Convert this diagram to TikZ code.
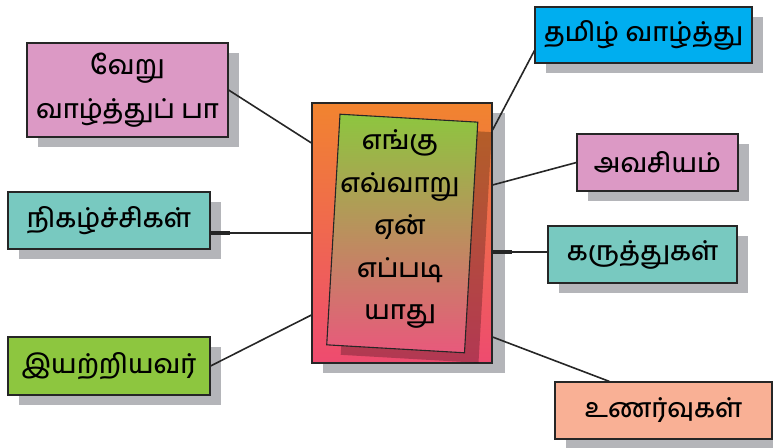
\documentclass[tikz,border=0pt]{standalone}
\usepackage{fontspec}
\newfontfamily\tamil[Script=Tamil, UprightFont=* Medium]{Hind Madurai}
\usetikzlibrary{shadows}
\definecolor{rosebox}{HTML}{DC99C5}
\definecolor{tealbox}{HTML}{78C9C0}
\definecolor{leafbox}{HTML}{8DC63F}
\definecolor{skybox}{HTML}{00AEEF}
\definecolor{peachbox}{HTML}{F9B095}
\definecolor{shadegray}{HTML}{B4B5B9}
\definecolor{midtop}{HTML}{F1842F}
\definecolor{midbot}{HTML}{EE4B70}
\definecolor{tiltbot}{HTML}{E8597C}
\begin{document}
\begin{tikzpicture}[x=1pt,y=1pt,
    box/.style={draw=black!85, line width=1.1pt, inner sep=0pt, align=center,
      font=\tamil\fontsize{26.5}{44}\selectfont,
      drop shadow={shadow xshift=11pt, shadow yshift=-10pt, fill=shadegray, opacity=1}},
    link/.style={line width=1.6pt, black!85},
    stub/.style={line width=4pt, black!85}]
  \useasboundingbox (0,0) rectangle (773,447);
  \node[box, minimum width=180, minimum height=260, top color=midtop, bottom color=midbot,
    drop shadow={shadow xshift=13pt, shadow yshift=-10pt, fill=shadegray, opacity=1}] (mid) at (402,214) {};
  \node[draw=black!85, line width=1.1pt, minimum width=138, minimum height=231, rotate=-3.3,
    top color=leafbox, bottom color=tiltbot,
    drop shadow={shadow xshift=14pt, shadow yshift=-10pt, fill=black, opacity=.25}] (tilt) at (402.25,213.5) {};
  \node[align=center, font=\tamil\fontsize{26.5}{42.5}\selectfont] (words) at (400,218)
    {எங்கு\\எவ்வாறு\\ஏன்\\எப்படி\\யாது};

  \node[box, fill=rosebox, minimum width=201, minimum height=94] (vera) at (127.5,357) {வேறு\\வாழ்த்துப் பா};
  \node[box, fill=tealbox, minimum width=202, minimum height=57] (niga) at (109,226.5) {நிகழ்ச்சிகள்};
  \node[box, fill=leafbox, minimum width=202, minimum height=58] (iyar) at (109,81) {இயற்றியவர்};
  \node[box, fill=skybox, minimum width=217, minimum height=56] (tamil) at (643.5,412) {தமிழ் வாழ்த்து};
  \node[box, fill=rosebox, minimum width=161, minimum height=57] (avas) at (657.5,284.5) {அவசியம்};
  \node[box, fill=tealbox, minimum width=189, minimum height=57] (karu) at (642.5,192.5) {கருத்துகள்};
  \node[box, fill=peachbox, minimum width=217, minimum height=57] (unar) at (663.5,36.5) {உணர்வுகள்};

  \draw[link] (vera.east) -- ([yshift=90]mid.west);
  \draw[link] (mid.west) -- (mid.west -| niga.east);
  \draw[stub] (mid.west -| niga.east) -- ++(19,0);
  \draw[link] (iyar.east) -- ([yshift=-82]mid.west);
  \draw[link] ([yshift=103]mid.east) -- ([yshift=13]tamil.south west);
  \draw[link] ([yshift=48]mid.east) -- (avas.west);
  \draw[link] ([yshift=-19]mid.east) -- ([yshift=-19]mid.east -| karu.west);
  \draw[stub] ([yshift=-19]mid.east) -- ++(19,0);
  \draw[link] ([yshift=-104]mid.east) -- ([xshift=55]unar.north west);
\end{tikzpicture}
\end{document}
